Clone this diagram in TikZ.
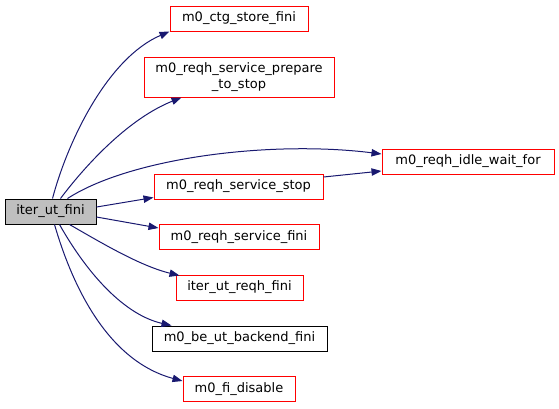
\documentclass[tikz,border=0pt]{standalone}
\usepackage{fontspec}
\setmainfont{DejaVu Sans}
\usetikzlibrary{calc,arrows.meta}
\definecolor{edgecol}{HTML}{191970}
\definecolor{finigray}{HTML}{BFBFBF}
\tikzset{
  fn/.style={draw=red, line width=0.75pt, rectangle, inner sep=0pt, minimum height=18.75pt, font=\fontsize{9.75pt}{11.5pt}\selectfont, align=center},
  blk/.style={fn, draw=black},
  edge/.style={draw=edgecol, line width=0.75pt, -{Triangle[length=7.5pt,width=5.5pt]}}
}
\begin{document}
\begin{tikzpicture}[x=0.75pt,y=-0.75pt]
\useasboundingbox (0,0) rectangle (559,408);
\node[blk, fill=finigray, minimum width=68.25pt] (fini) at (50.5,211.5) {iter\_ut\_fini};
\node[fn, minimum width=103.5pt] (ctg) at (239,18.5) {m0\_ctg\_store\_fini};
\node[fn, minimum width=142.5pt, minimum height=30pt] (prep) at (239,77) {m0\_reqh\_service\_prepare\\\_to\_stop};
\node[fn, minimum width=126.75pt] (stop) at (238.5,186.5) {m0\_reqh\_service\_stop};
\node[fn, minimum width=129pt] (idle) at (468,161.5) {m0\_reqh\_idle\_wait\_for};
\node[fn, minimum width=120pt] (sfini) at (239,237) {m0\_reqh\_service\_fini};
\node[fn, minimum width=95.25pt] (rfini) at (239.5,287.5) {iter\_ut\_reqh\_fini};
\node[blk, minimum width=131.25pt] (be) at (239.5,338.5) {m0\_be\_ut\_backend\_fini};
\node[fn, minimum width=84pt] (fi) at (239,389) {m0\_fi\_disable};

\draw[edge] ($(fini.north west)+(48,0)$) .. controls (68,140) and (108,58) .. (ctg.south west);
\draw[edge] ($(fini.north west)+(56,0)$) .. controls (88,162) and (130,118) .. ($(prep.south west)+(38,0)$);
\draw[edge] ($(fini.north west)+(63,0)$) .. controls (130,158) and (270,140) .. ($(idle.west)+(0,-7.5)$);
\draw[edge] ($(fini.east)+(0,-4.5)$) -- ($(stop.south west)+(0,-2)$);
\draw[edge] ($(stop.east)+(0,-9.5)$) -- ($(idle.west)+(0,9.5)$);
\draw[edge] ($(fini.east)+(0,5.5)$) -- ($(sfini.west)+(0,-9)$);
\draw[edge] ($(fini.south west)+(65,0)$) .. controls (100,242) and (140,266) .. ($(rfini.north west)+(4,1)$);
\draw[edge] ($(fini.south west)+(55,0)$) .. controls (88,275) and (125,315) .. ($(be.north west)+(20,0)$);
\draw[edge] ($(fini.south west)+(50,0)$) .. controls (75,295) and (112,362) .. ($(fi.west)+(0,-8)$);
\end{tikzpicture}
\end{document}
